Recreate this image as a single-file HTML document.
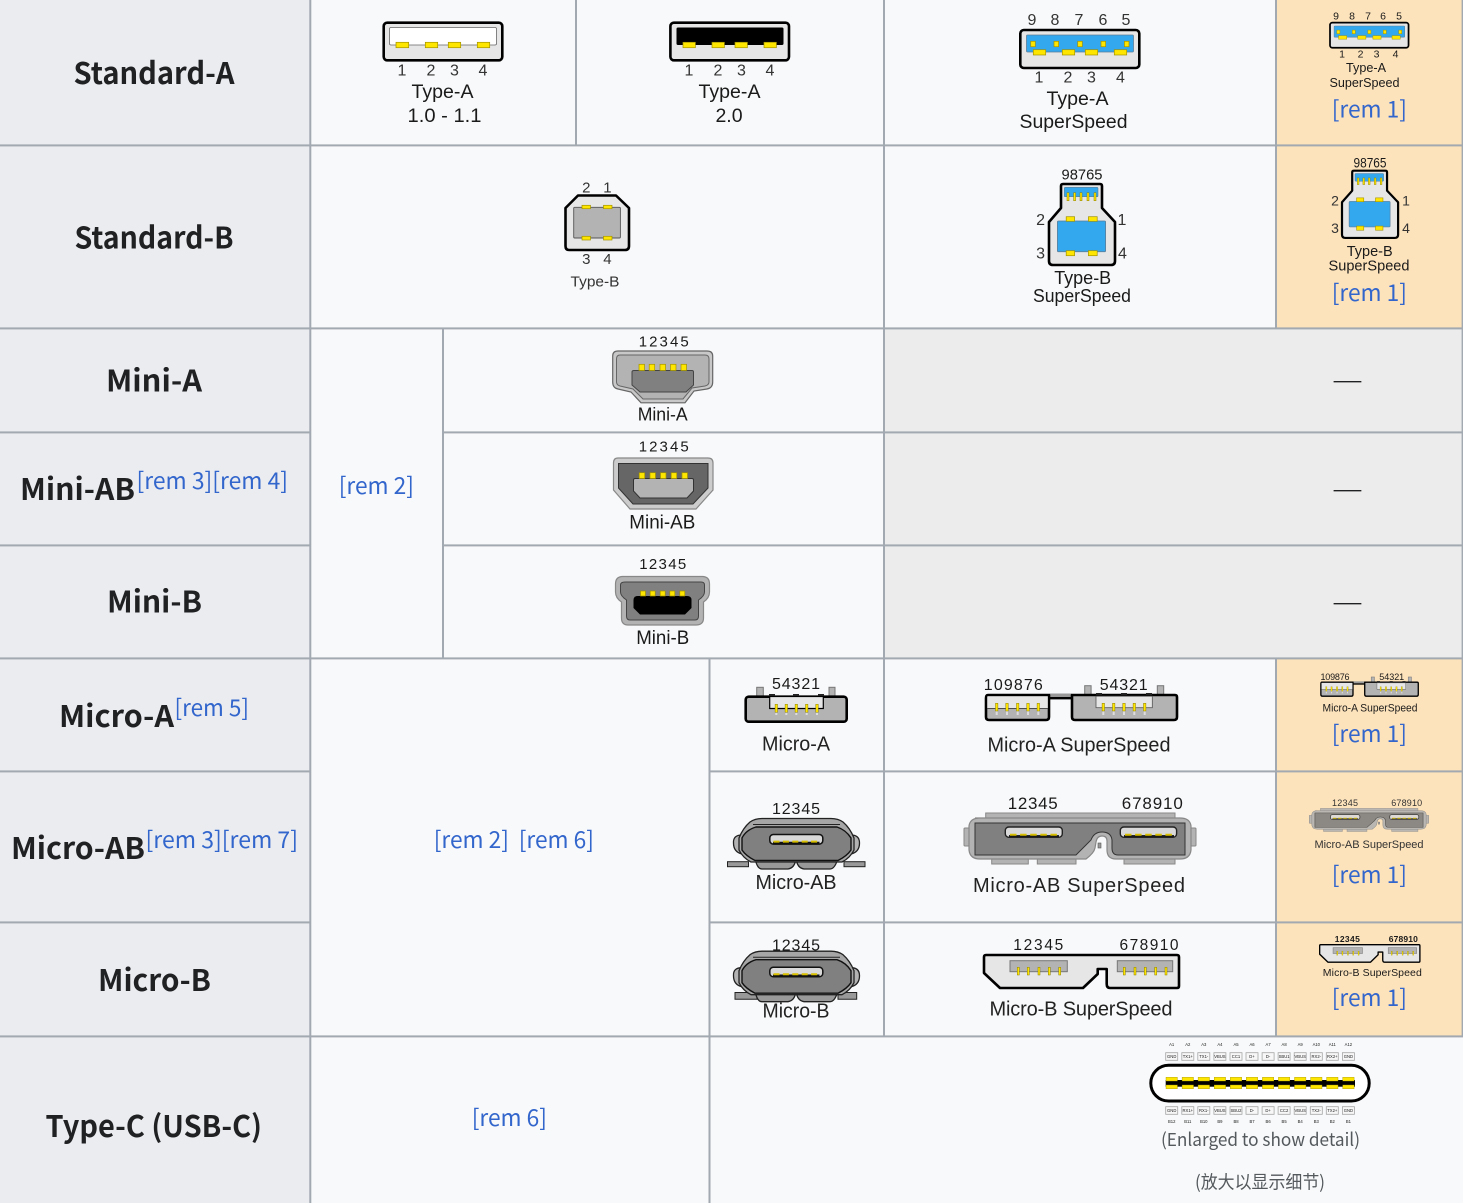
<!DOCTYPE html>
<html lang="en"><head><meta charset="utf-8"><title>USB connectors</title>
<style>
html,body{margin:0;padding:0;background:#f8f9fa;width:1463px;height:1203px;overflow:hidden}
svg{display:block}
text{font-family:"Liberation Sans",sans-serif;fill:#1a1a1a;text-anchor:middle}
.h{font-family:"Noto Sans CJK SC","Liberation Sans",sans-serif;font-weight:700;font-size:30px;fill:#202122;text-anchor:start}
.r{font-family:"Noto Sans CJK SC","Liberation Sans",sans-serif;font-size:23px;fill:#3366cc;text-anchor:start}
.n{font-size:16px;fill:#333}
.l{font-size:19.5px}
.s{font-size:15px}
.c{font-family:"Noto Sans CJK SC","Liberation Sans",sans-serif;font-size:18px;fill:#54595d}
.p{fill:#ffe600;stroke:#a39300;stroke-width:.7}
.t{fill:#ffe600;stroke:#8a7d00;stroke-width:.5}
.ln{fill:#a2a9b1}
.b{fill:#f7f7f7;stroke:#a6a6a6;stroke-width:.8}
.x{font-size:4.2px;fill:#444}
.o{stroke:#000;stroke-width:2.6;stroke-linejoin:round}
</style></head><body>
<svg xmlns="http://www.w3.org/2000/svg" width="1463" height="1203" viewBox="0 0 1463 1203">
<defs>
<g id="ass">
<rect class="o" x="1020.3" y="30" width="119" height="38" rx="3.5" fill="#e6e6e6"/>
<rect x="1026.5" y="35" width="107" height="17" rx="1" fill="#33a8ee" stroke="#5c7f99" stroke-width=".8"/>
<rect class="p" x="1030.7" y="41.3" width="4.6" height="5.4"/><rect class="p" x="1054" y="41.3" width="4.6" height="5.4"/><rect class="p" x="1077.7" y="41.3" width="4.6" height="5.4"/><rect class="p" x="1101" y="41.3" width="4.6" height="5.4"/><rect class="p" x="1124.4" y="41.3" width="4.6" height="5.4"/>
<rect class="p" x="1033.3" y="49.7" width="12.4" height="5.3"/><rect class="p" x="1062.3" y="49.7" width="12.4" height="5.3"/><rect class="p" x="1085.3" y="49.7" width="12.4" height="5.3"/><rect class="p" x="1114.3" y="49.7" width="12.4" height="5.3"/>
</g>
<g id="bss">
<path class="o" d="M1053,265 H1111 Q1115,265 1115,261 V222 L1102,208 V186 Q1102,184 1100,184 H1063 Q1061,184 1061,186 V208 L1049,222 V261 Q1049,265 1053,265Z" fill="#e6e6e6"/>
<rect x="1064.3" y="187.3" width="33.7" height="9.4" rx="1" fill="#33a8ee" stroke="#5c7f99" stroke-width=".6"/>
<rect class="t" x="1067" y="192.7" width="2" height="8"/><rect class="t" x="1073.6" y="192.7" width="2" height="8"/><rect class="t" x="1080" y="192.7" width="2" height="8"/><rect class="t" x="1087" y="192.7" width="2" height="8"/><rect class="t" x="1094" y="192.7" width="2" height="8"/>
<rect x="1057.4" y="221" width="48.2" height="30.7" rx="1" fill="#33a8ee" stroke="#5c7f99" stroke-width=".8"/>
<rect class="p" x="1066.2" y="216.7" width="8.4" height="4.6"/><rect class="p" x="1088.4" y="216.7" width="8.8" height="4.6"/><rect class="p" x="1066.2" y="250.7" width="8.4" height="5"/><rect class="p" x="1088.4" y="250.7" width="8.8" height="5"/>
</g>
<g id="mass">
<rect x="1084.7" y="685.7" width="6.4" height="9" fill="#b3b3b3" stroke="#777"/><rect x="1157.3" y="685.7" width="6.4" height="9" fill="#b3b3b3" stroke="#777"/>
<rect x="1049" y="693.5" width="23" height="3.5" fill="#999"/><rect x="1049" y="697" width="23" height="2.4" fill="#000"/>
<path class="o" d="M988,695 H1049 V717 Q1049,720 1046,720 H989 Q986,720 986,717 V698 Q986,695 988,695Z" fill="#b3b3b3"/>
<rect x="987.3" y="696.3" width="60.5" height="11.7" fill="#e6e6e6"/><rect x="987" y="708" width="61" height=".9" fill="#444"/>
<path class="o" d="M1072,695 H1175 Q1177,695 1177,697 V717 Q1177,720 1174,720 H1075 Q1072,720 1072,717Z" fill="#b3b3b3"/>
<rect x="1096" y="696.2" width="56.3" height="11.5" fill="#e6e6e6" stroke="#555" stroke-width=".8"/>
<rect x="1096" y="693" width="6" height="2" fill="#222"/><rect x="1121" y="693" width="6" height="2" fill="#222"/><rect x="1146" y="693" width="6" height="2" fill="#222"/>
<g fill="#ddd"><rect x="995.7" y="710" width="2" height="5"/><rect x="1006" y="710" width="2" height="5"/><rect x="1016.7" y="710" width="2" height="5"/><rect x="1027" y="710" width="2" height="5"/><rect x="1037.3" y="710" width="2" height="5"/><rect x="1102.3" y="710" width="2" height="5"/><rect x="1112.7" y="710" width="2" height="5"/><rect x="1123" y="710" width="2" height="5"/><rect x="1133.3" y="710" width="2" height="5"/><rect x="1143.7" y="710" width="2" height="5"/></g>
<rect class="t" x="995.5" y="703.3" width="2.4" height="7.7"/><rect class="t" x="1005.8" y="703.3" width="2.4" height="7.7"/><rect class="t" x="1016.5" y="703.3" width="2.4" height="7.7"/><rect class="t" x="1026.8" y="703.3" width="2.4" height="7.7"/><rect class="t" x="1037.1" y="703.3" width="2.4" height="7.7"/>
<rect class="t" x="1102.1" y="703.3" width="2.4" height="7.7"/><rect class="t" x="1112.5" y="703.3" width="2.4" height="7.7"/><rect class="t" x="1122.8" y="703.3" width="2.4" height="7.7"/><rect class="t" x="1133.1" y="703.3" width="2.4" height="7.7"/><rect class="t" x="1143.5" y="703.3" width="2.4" height="7.7"/>
</g>
<g id="slot">
<rect x="769.8" y="834.5" width="53" height="9.6" rx="3.5" fill="#d9d9d9" stroke="#111" stroke-width="1.5"/>
<path d="M773,842.8 H819.5" stroke="#111" stroke-width="2" fill="none"/>
<path d="M773.5,841.6 H820" stroke="#d8c000" stroke-width="2" fill="none" stroke-dasharray="6 3.4"/>
</g>
<g id="mbody">
<path d="M742,835 Q733,835 733.5,843 Q733.5,852 742,854 Z" fill="#b3b3b3" stroke="#222" stroke-width="1.3"/>
<path d="M851,835 Q859.5,835 859.5,843 Q859.5,852 851,854 Z" fill="#b3b3b3" stroke="#222" stroke-width="1.3"/>
<path d="M755,858 H796 Q795,868 788,869 H762 Q757,869 755,858Z" fill="#999" stroke="#222" stroke-width="1.3"/>
<path d="M838,858 H796 Q797,868 804,869 H830 Q835,869 838,858Z" fill="#999" stroke="#222" stroke-width="1.3"/>
<path d="M750,822 Q755,818.5 762,818.5 H831 Q838,818.5 843,822 Q850,828 854,838 V850 Q850,858 842,862 H751 Q743,858 739,850 V838 Q743,828 750,822Z" fill="#a6a6a6" stroke="#222" stroke-width="1.3"/>
<path d="M753,824.5 H840" stroke="#222" stroke-width="1" fill="none"/>
<path d="M756,827 H837 Q846,830 851,838 V850 Q847,856 838,860.5 H755 Q746,856 742,850 V838 Q746,830 756,827Z" fill="#808080" stroke="#111" stroke-width="1.4"/>
<use href="#slot"/>
</g>
<g id="mabss">
<rect x="964" y="828" width="7" height="18" rx="1" fill="#b3b3b3" stroke="#888"/><rect x="1189" y="828" width="7" height="18" rx="1" fill="#b3b3b3" stroke="#888"/>
<rect x="991.7" y="853" width="36.6" height="11" fill="#b3b3b3" stroke="#888"/><rect x="1037.3" y="853" width="38.7" height="11" fill="#b3b3b3" stroke="#888"/><rect x="1124" y="853" width="51" height="11" fill="#b3b3b3" stroke="#888"/>
<rect x="985.7" y="813" width="189.3" height="8" fill="#b3b3b3" stroke="#888"/>
<path d="M975,818 H1180 Q1190,818 1191,826 V850 Q1190,859 1180,859 H1116 Q1107,859 1107,850 V841 Q1107,836 1102,836 Q1097,836 1096,842 L1095,848 Q1094,853 1086,859 H980 Q970,859 969,850 V826 Q970,818 980,818Z" fill="#b3b3b3" stroke="#888" stroke-width="1.2"/>
<path d="M975,823 H1185 V855 H1118 Q1112,855 1112,848 V840 Q1111,832 1102,832 Q1094,832 1091,840 L1076,855 H975Z" fill="#808080" stroke="#333" stroke-width="1"/>
<rect x="1098" y="843" width="3" height="5" fill="#999" stroke="#555" stroke-width=".6"/>
<rect x="1005.3" y="827" width="57" height="10.3" rx="3.5" fill="#d9d9d9" stroke="#222" stroke-width="1.4"/>
<rect x="1120.3" y="827" width="56.3" height="10.3" rx="3.5" fill="#d9d9d9" stroke="#222" stroke-width="1.4"/>
<path d="M1009,836 H1059 M1124,836 H1174" stroke="#111" stroke-width="1.8" fill="none"/>
<path d="M1010,834.8 H1059 M1125,834.8 H1174" stroke="#d8c000" stroke-width="2" stroke-dasharray="6.5 3.6" fill="none"/>
</g>
<g id="mbss">
<path class="o" d="M986,955 H1177 Q1179,955 1179,957 V986 Q1179,988 1177,988 H1110 Q1106.7,988 1106.7,984 V969 H1097.7 V974 L1083,988 H1000 L984,973 V957 Q984,955 986,955Z" fill="#e6e6e6"/>
<rect x="1010" y="960.7" width="57.3" height="11" fill="#b3b3b3" stroke="#777"/>
<rect x="1117.3" y="960.7" width="55.4" height="11" fill="#b3b3b3" stroke="#777"/>
<rect class="t" x="1017.3" y="967.3" width="2" height="7.7"/><rect class="t" x="1027.3" y="967.3" width="2" height="7.7"/><rect class="t" x="1038" y="967.3" width="2" height="7.7"/><rect class="t" x="1048.3" y="967.3" width="2" height="7.7"/><rect class="t" x="1058.7" y="967.3" width="2" height="7.7"/>
<rect class="t" x="1123.3" y="967.3" width="2" height="7.7"/><rect class="t" x="1134" y="967.3" width="2" height="7.7"/><rect class="t" x="1144.3" y="967.3" width="2" height="7.7"/><rect class="t" x="1154.7" y="967.3" width="2" height="7.7"/><rect class="t" x="1165" y="967.3" width="2" height="7.7"/>
</g>
</defs>

<!-- backgrounds -->
<rect width="1463" height="1203" fill="#f8f9fa"/>
<rect x="0" y="0" width="310" height="1203" fill="#eaecf0"/>
<rect x="885" y="329" width="578" height="329" fill="#ececec"/>
<rect x="1277" y="0" width="186" height="328" fill="#fde3bb"/>
<rect x="1277" y="658" width="186" height="378" fill="#fde3bb"/>

<!-- grid -->
<g class="ln">
<rect x="309.3" y="0" width="2" height="1203"/><rect x="575" y="0" width="2" height="145"/><rect x="883" y="0" width="2" height="1036"/>
<rect x="1275" y="0" width="2" height="328"/><rect x="1275" y="658" width="2" height="378"/><rect x="442" y="328" width="2" height="330"/><rect x="708.5" y="658" width="2" height="545"/><rect x="1461.6" y="0" width="1.4" height="1036"/>
<rect x="0" y="144.4" width="1463" height="2"/><rect x="0" y="327.4" width="1463" height="2"/>
<rect x="0" y="431.4" width="310" height="2"/><rect x="443" y="431.4" width="1020" height="2"/>
<rect x="0" y="544.4" width="310" height="2"/><rect x="443" y="544.4" width="1020" height="2"/>
<rect x="0" y="657.4" width="1463" height="2"/>
<rect x="0" y="770.4" width="310" height="2"/><rect x="709" y="770.4" width="754" height="2"/>
<rect x="0" y="921.4" width="310" height="2"/><rect x="709" y="921.4" width="754" height="2"/>
<rect x="0" y="1035.4" width="1463" height="2"/>
</g>

<!-- row headers -->
<text class="h" x="73.5" y="83.8" textLength="161" lengthAdjust="spacingAndGlyphs">Standard-A</text>
<text class="h" x="74.5" y="248.6" textLength="159" lengthAdjust="spacingAndGlyphs">Standard-B</text>
<text class="h" x="106" y="391.5" textLength="96" lengthAdjust="spacingAndGlyphs">Mini-A</text>
<text class="h" x="20" y="499.8" textLength="115" lengthAdjust="spacingAndGlyphs">Mini-AB</text>
<text class="r" x="136.5" y="489" textLength="151.5" lengthAdjust="spacingAndGlyphs">[rem 3][rem 4]</text>
<text class="h" x="107" y="612.5" textLength="95" lengthAdjust="spacingAndGlyphs">Mini-B</text>
<text class="h" x="59" y="726.8" textLength="115" lengthAdjust="spacingAndGlyphs">Micro-A</text>
<text class="r" x="174.5" y="716" textLength="74.5" lengthAdjust="spacingAndGlyphs">[rem 5]</text>
<text class="h" x="11" y="858.8" textLength="134" lengthAdjust="spacingAndGlyphs">Micro-AB</text>
<text class="r" x="145.5" y="848" textLength="152.5" lengthAdjust="spacingAndGlyphs">[rem 3][rem 7]</text>
<text class="h" x="98" y="990.8" textLength="113" lengthAdjust="spacingAndGlyphs">Micro-B</text>
<text class="h" x="45.5" y="1136.8" textLength="216.5" lengthAdjust="spacingAndGlyphs">Type-C (USB-C)</text>

<!-- plain rem cells -->
<text class="r" x="338.7" y="494" textLength="75.3" lengthAdjust="spacingAndGlyphs">[rem 2]</text>
<text class="r" x="433.7" y="848" textLength="75.3" lengthAdjust="spacingAndGlyphs">[rem 2]</text>
<text class="r" x="518.7" y="848" textLength="75.3" lengthAdjust="spacingAndGlyphs">[rem 6]</text>
<text class="r" x="471.7" y="1126" textLength="75.3" lengthAdjust="spacingAndGlyphs">[rem 6]</text>
<text class="r" x="1331.7" y="117.6" textLength="75.3" lengthAdjust="spacingAndGlyphs">[rem 1]</text>
<text class="r" x="1331.7" y="301" textLength="75.3" lengthAdjust="spacingAndGlyphs">[rem 1]</text>
<text class="r" x="1331.7" y="742" textLength="75.3" lengthAdjust="spacingAndGlyphs">[rem 1]</text>
<text class="r" x="1331.7" y="883" textLength="75.3" lengthAdjust="spacingAndGlyphs">[rem 1]</text>
<text class="r" x="1331.7" y="1006" textLength="75.3" lengthAdjust="spacingAndGlyphs">[rem 1]</text>

<!-- em dashes -->
<text class="r" x="1332" y="388.2" textLength="31" lengthAdjust="spacingAndGlyphs" style="fill:#202122">—</text>
<text class="r" x="1332" y="497.2" textLength="31" lengthAdjust="spacingAndGlyphs" style="fill:#202122">—</text>
<text class="r" x="1332" y="610.2" textLength="31" lengthAdjust="spacingAndGlyphs" style="fill:#202122">—</text>

<!-- Type-A 1.0 -->
<rect class="o" x="383.7" y="22.7" width="118.6" height="37.6" rx="3.5" fill="#e6e6e6"/>
<rect x="389.5" y="27.5" width="107" height="17.5" rx="1.5" fill="#fff" stroke="#666" stroke-width=".8"/>
<rect class="p" x="396" y="42.3" width="12.7" height="5.4"/><rect class="p" x="425.3" y="42.3" width="12.4" height="5.4"/><rect class="p" x="448.3" y="42.3" width="12.4" height="5.4"/><rect class="p" x="477.3" y="42.3" width="12.4" height="5.4"/>
<text class="n" x="402" y="75.5">1</text><text class="n" x="431" y="75.5">2</text><text class="n" x="454.5" y="75.5">3</text><text class="n" x="483" y="75.5">4</text>
<text class="l" x="442.5" y="98" textLength="62" lengthAdjust="spacingAndGlyphs">Type-A</text>
<text class="l" x="444.5" y="122" textLength="74" lengthAdjust="spacingAndGlyphs">1.0 - 1.1</text>
<!-- Type-A 2.0 -->
<rect class="o" x="670.4" y="22.7" width="118.6" height="37.6" rx="3.5" fill="#e6e6e6"/>
<rect x="676.5" y="27.5" width="107" height="17.5" rx="1.5" fill="#000"/>
<rect class="p" x="683" y="42.3" width="12.4" height="5.4"/><rect class="p" x="712" y="42.3" width="12.4" height="5.4"/><rect class="p" x="735" y="42.3" width="12.4" height="5.4"/><rect class="p" x="764" y="42.3" width="12.4" height="5.4"/>
<text class="n" x="689" y="75.5">1</text><text class="n" x="718" y="75.5">2</text><text class="n" x="741.5" y="75.5">3</text><text class="n" x="770" y="75.5">4</text>
<text class="l" x="729.5" y="98" textLength="62" lengthAdjust="spacingAndGlyphs">Type-A</text>
<text class="l" x="729" y="122">2.0</text>
<!-- Type-A SS -->
<use href="#ass"/>
<text class="n" x="1032" y="25">9</text><text class="n" x="1055" y="25">8</text><text class="n" x="1079" y="25">7</text><text class="n" x="1103" y="25">6</text><text class="n" x="1126" y="25">5</text>
<text class="n" x="1039" y="82.5">1</text><text class="n" x="1068" y="82.5">2</text><text class="n" x="1091.5" y="82.5">3</text><text class="n" x="1120.5" y="82.5">4</text>
<text class="l" x="1077.5" y="105" textLength="62" lengthAdjust="spacingAndGlyphs">Type-A</text>
<text class="l" x="1073.5" y="128" textLength="108" lengthAdjust="spacingAndGlyphs">SuperSpeed</text>
<!-- Type-A SS small -->
<g transform="translate(656.6,2.86) scale(.66)"><use href="#ass"/></g>
<text x="1336" y="19.5" style="font-size:10.5px">9</text><text x="1352" y="19.5" style="font-size:10.5px">8</text><text x="1368" y="19.5" style="font-size:10.5px">7</text><text x="1383" y="19.5" style="font-size:10.5px">6</text><text x="1399" y="19.5" style="font-size:10.5px">5</text>
<text x="1342" y="57.5" style="font-size:10.5px">1</text><text x="1360.5" y="57.5" style="font-size:10.5px">2</text><text x="1376.5" y="57.5" style="font-size:10.5px">3</text><text x="1395.5" y="57.5" style="font-size:10.5px">4</text>
<text x="1366" y="72" style="font-size:13px" textLength="40" lengthAdjust="spacingAndGlyphs">Type-A</text>
<text x="1364.5" y="87" style="font-size:13px" textLength="70" lengthAdjust="spacingAndGlyphs">SuperSpeed</text>

<!-- Type-B -->
<path class="o" d="M569,250 H625 Q629,250 629,246 V208 L616,195.5 H578 L565.5,208 V246 Q565.5,250 569,250Z" fill="#e6e6e6"/>
<rect x="573.7" y="207.3" width="46.7" height="30.7" rx="1" fill="#b3b3b3" stroke="#555" stroke-width=".9"/>
<rect class="p" x="582" y="205.3" width="8.5" height="3.4"/><rect class="p" x="603.5" y="205.3" width="8.5" height="3.4"/><rect class="p" x="582" y="236.3" width="8.5" height="3.7"/><rect class="p" x="603.5" y="236.3" width="8.5" height="3.7"/>
<text class="n" x="586.3" y="192.7" style="font-size:15px">2</text><text class="n" x="607.4" y="192.7" style="font-size:15px">1</text>
<text class="n" x="586.3" y="264" style="font-size:15px">3</text><text class="n" x="607.4" y="264" style="font-size:15px">4</text>
<text x="595" y="286.7" style="font-size:15px;fill:#333" textLength="49" lengthAdjust="spacingAndGlyphs">Type-B</text>
<!-- Type-B SS -->
<use href="#bss"/>
<text class="s" x="1082" y="179.5" textLength="41" lengthAdjust="spacingAndGlyphs">98765</text>
<text class="n" x="1040.6" y="225">2</text><text class="n" x="1122" y="225">1</text><text class="n" x="1040.6" y="258.3">3</text><text class="n" x="1122.5" y="258.3">4</text>
<text x="1082.7" y="284" style="font-size:18px" textLength="57" lengthAdjust="spacingAndGlyphs">Type-B</text>
<text x="1082" y="302" style="font-size:18px" textLength="98" lengthAdjust="spacingAndGlyphs">SuperSpeed</text>
<!-- Type-B SS small -->
<g transform="translate(450.35,18) scale(.85,.83)"><use href="#bss"/></g>
<text x="1370" y="167.5" style="font-size:14px" textLength="33" lengthAdjust="spacingAndGlyphs">98765</text>
<text class="n" x="1335" y="205.7" style="font-size:14px">2</text><text class="n" x="1406" y="205.7" style="font-size:14px">1</text><text class="n" x="1335" y="233" style="font-size:14px">3</text><text class="n" x="1406" y="233" style="font-size:14px">4</text>
<text x="1369.7" y="256" style="font-size:15px" textLength="46" lengthAdjust="spacingAndGlyphs">Type-B</text>
<text x="1369" y="270.5" style="font-size:15px" textLength="81" lengthAdjust="spacingAndGlyphs">SuperSpeed</text>

<!-- Mini-A -->
<path d="M618,351 H707 Q712.7,351 712.7,356 V382 Q712.7,388 707,389 L694,391 L685,402.8 H641 L631,392 L618,389 Q612.7,388 612.7,382 V356 Q612.7,351 618,351Z" fill="#c8c8c8" stroke="#666" stroke-width="1.2"/>
<path d="M620,355 H705 Q709,355 709,359 V382 Q709,385 705,386 L692,388 L683,399 H643 L633,389 L620,386 Q616.5,385 616.5,382 V359 Q616.5,355 620,355Z" fill="#b3b3b3" stroke="#666" stroke-width="1"/>
<path d="M634,370.5 H692 Q693.5,370.5 693.5,372 V385 L686,392 H640 L632,385 V372 Q632,370.5 634,370.5Z" fill="#808080" stroke="#444" stroke-width="1"/>
<rect class="p" x="639" y="364.3" width="5.5" height="6.2"/><rect class="p" x="649.2" y="364.3" width="5.5" height="6.2"/><rect class="p" x="660" y="364.3" width="5.5" height="6.2"/><rect class="p" x="670.5" y="364.3" width="5.5" height="6.2"/><rect class="p" x="681" y="364.3" width="5.5" height="6.2"/>
<text class="s" x="663.7" y="346.7" textLength="50">12345</text>
<text x="662.7" y="420.7" style="font-size:18px" textLength="50" lengthAdjust="spacingAndGlyphs">Mini-A</text>
<!-- Mini-AB -->
<path d="M618,458 H708 Q713,458 713,463 V490 L696,509 H630 L613.5,490 V463 Q613.5,458 618,458Z" fill="#ccc" stroke="#888" stroke-width="1.2"/>
<path d="M618.5,463.5 H708 V488 L693,504 H633 L618.5,488Z" fill="#666" stroke="#333" stroke-width="1"/>
<path d="M635,478.5 H692 Q693.5,478.5 693.5,480 V491 L687,498 H640 L633.5,491 V480 Q633.5,478.5 635,478.5Z" fill="#b3b3b3" stroke="#333" stroke-width="1"/>
<rect class="p" x="639.2" y="472.7" width="5.5" height="5.8"/><rect class="p" x="650" y="472.7" width="5.5" height="5.8"/><rect class="p" x="660.5" y="472.7" width="5.5" height="5.8"/><rect class="p" x="671.2" y="472.7" width="5.5" height="5.8"/><rect class="p" x="682" y="472.7" width="5.5" height="5.8"/>
<text class="s" x="663.7" y="451.7" textLength="50">12345</text>
<text x="662.3" y="528.3" style="font-size:19px" textLength="66" lengthAdjust="spacingAndGlyphs">Mini-AB</text>
<!-- Mini-B -->
<path d="M622,576.5 H703 Q709.5,577 709.5,584 V592 Q709.5,598 703.5,602 V618 Q703.5,625 696,625 H628 Q621.5,625 621.5,618 V602 Q615.5,598 615.5,592 V584 Q615.5,577 622,576.5Z" fill="#b3b3b3" stroke="#888" stroke-width="1.2"/>
<path d="M625,582 H701 Q704.5,582 704.5,585 V592 Q704.5,596 698.5,600 V616 Q698.5,620 695,620 H630 Q626.5,620 626.5,616 V600 Q620.5,596 620.5,592 V585 Q620.5,582 625,582Z" fill="#808080" stroke="#444" stroke-width="1"/>
<path d="M638,596 H687 Q691.5,596 691.5,600 V608 L685,614.5 H640 L633.5,608 V600 Q633.5,596 638,596Z" fill="#000"/>
<rect class="p" x="640.5" y="591" width="5" height="5"/><rect class="p" x="650.2" y="591" width="5" height="5"/><rect class="p" x="660.2" y="591" width="5" height="5"/><rect class="p" x="669.8" y="591" width="5" height="5"/><rect class="p" x="679.8" y="591" width="5" height="5"/>
<text class="s" x="662.7" y="569" textLength="47">12345</text>
<text x="662.7" y="644" style="font-size:19px" textLength="53" lengthAdjust="spacingAndGlyphs">Mini-B</text>

<!-- Micro-A -->
<rect x="756.7" y="687.3" width="6.6" height="9" fill="#b3b3b3" stroke="#777"/><rect x="829" y="687.3" width="6" height="9" fill="#b3b3b3" stroke="#777"/>
<rect class="o" x="745.7" y="696.7" width="101" height="25" rx="3" fill="#b3b3b3"/>
<rect x="769.7" y="696.5" width="53.6" height="12" fill="#e6e6e6" stroke="#000" stroke-width="1.2"/>
<rect x="769" y="694" width="6" height="2" fill="#222"/><rect x="793" y="694" width="6" height="2" fill="#222"/><rect x="818" y="694" width="6" height="2" fill="#222"/>
<g fill="#ddd"><rect x="775.3" y="711" width="2" height="4"/><rect x="785.3" y="711" width="2" height="4"/><rect x="795.3" y="711" width="2" height="4"/><rect x="805.7" y="711" width="2" height="4"/><rect x="816" y="711" width="2" height="4"/></g>
<rect class="t" x="775.1" y="704.3" width="2.4" height="8"/><rect class="t" x="785.1" y="704.3" width="2.4" height="8"/><rect class="t" x="795.1" y="704.3" width="2.4" height="8"/><rect class="t" x="805.5" y="704.3" width="2.4" height="8"/><rect class="t" x="815.8" y="704.3" width="2.4" height="8"/>
<text class="s" x="796" y="689" style="font-size:16px" textLength="48">54321</text>
<text x="796" y="750.7" style="font-size:20px;fill:#222" textLength="68" lengthAdjust="spacingAndGlyphs">Micro-A</text>
<!-- Micro-A SS -->
<use href="#mass"/>
<text x="1013.3" y="690" style="font-size:16px" textLength="59">109876</text>
<text x="1123.7" y="690" style="font-size:16px" textLength="48">54321</text>
<text x="1079" y="751.3" style="font-size:20px;fill:#222" textLength="183" lengthAdjust="spacingAndGlyphs">Micro-A SuperSpeed</text>
<!-- Micro-A SS small -->
<g transform="translate(818,293) scale(.51,.56)"><use href="#mass"/></g>
<text x="1335" y="680" style="font-size:9px" textLength="29">109876</text>
<text x="1391.7" y="680" style="font-size:9px" textLength="25">54321</text>
<text x="1370" y="711.5" style="font-size:11px" textLength="95" lengthAdjust="spacingAndGlyphs">Micro-A SuperSpeed</text>

<!-- Micro-AB -->
<rect x="727.5" y="861.7" width="21" height="5" fill="#999" stroke="#222" stroke-width="1"/><rect x="844" y="861.7" width="21" height="5" fill="#999" stroke="#222" stroke-width="1"/>
<use href="#mbody"/>
<text x="796" y="814" style="font-size:16px" textLength="48">12345</text>
<text x="796" y="889" style="font-size:20px;fill:#222" textLength="81" lengthAdjust="spacingAndGlyphs">Micro-AB</text>
<!-- Micro-AB SS -->
<use href="#mabss"/>
<text x="1032.7" y="809" style="font-size:17px" textLength="50">12345</text>
<text x="1152.3" y="809" style="font-size:17px" textLength="61">678910</text>
<text x="1079" y="892" style="font-size:20px;fill:#222" textLength="212" lengthAdjust="spacing">Micro-AB SuperSpeed</text>
<!-- Micro-AB SS small -->
<g transform="translate(812.8,440.1) scale(.515,.453)" opacity=".9"><use href="#mabss"/></g>
<text x="1345" y="806" style="font-size:9px;fill:#333" textLength="26">12345</text>
<text x="1406.7" y="806" style="font-size:9px;fill:#333" textLength="31">678910</text>
<text x="1369" y="848" style="font-size:11px;fill:#333" textLength="109">Micro-AB SuperSpeed</text>

<!-- Micro-B -->
<path d="M735,992.5 H757 V999.3 H735Z M838,992.5 H856.7 V999.3 H838Z" fill="#999" stroke="#222" stroke-width="1"/>
<g transform="translate(0,132.7)"><use href="#mbody"/></g>
<text x="796" y="950.5" style="font-size:16px" textLength="48">12345</text>
<text x="796" y="1017.7" style="font-size:20px;fill:#222" textLength="67" lengthAdjust="spacingAndGlyphs">Micro-B</text>
<!-- Micro-B SS -->
<use href="#mbss"/>
<text x="1038.3" y="950" style="font-size:15.5px" textLength="50">12345</text>
<text x="1149" y="950" style="font-size:15.5px" textLength="59">678910</text>
<text x="1081" y="1015.7" style="font-size:20px;fill:#222" textLength="183" lengthAdjust="spacing">Micro-B SuperSpeed</text>
<!-- Micro-B SS small -->
<g transform="translate(813.9,438.5) scale(.514,.53)"><use href="#mbss"/></g>
<text x="1347.3" y="942" style="font-size:8.5px;font-weight:700" textLength="25">12345</text>
<text x="1403.3" y="942" style="font-size:8.5px;font-weight:700" textLength="29">678910</text>
<text x="1372.3" y="976" style="font-size:10.5px" textLength="99">Micro-B SuperSpeed</text>

<!-- Type-C -->
<g class="x">
<text x="1171.7" y="1046">A1</text><text x="1187.8" y="1046">A2</text><text x="1203.8" y="1046">A3</text><text x="1219.9" y="1046">A4</text><text x="1236" y="1046">A5</text><text x="1252" y="1046">A6</text><text x="1268.1" y="1046">A7</text><text x="1284.1" y="1046">A8</text><text x="1300.2" y="1046">A9</text><text x="1316.3" y="1046">A10</text><text x="1332.3" y="1046">A11</text><text x="1348.4" y="1046">A12</text>
</g>
<g class="b">
<rect x="1165.7" y="1052.7" width="12" height="7.6"/><rect x="1181.8" y="1052.7" width="12" height="7.6"/><rect x="1197.8" y="1052.7" width="12" height="7.6"/><rect x="1213.9" y="1052.7" width="12" height="7.6"/><rect x="1230" y="1052.7" width="12" height="7.6"/><rect x="1246" y="1052.7" width="12" height="7.6"/><rect x="1262.1" y="1052.7" width="12" height="7.6"/><rect x="1278.1" y="1052.7" width="12" height="7.6"/><rect x="1294.2" y="1052.7" width="12" height="7.6"/><rect x="1310.3" y="1052.7" width="12" height="7.6"/><rect x="1326.3" y="1052.7" width="12" height="7.6"/><rect x="1342.4" y="1052.7" width="12" height="7.6"/>
<rect x="1165.7" y="1106.7" width="12" height="7.6"/><rect x="1181.8" y="1106.7" width="12" height="7.6"/><rect x="1197.8" y="1106.7" width="12" height="7.6"/><rect x="1213.9" y="1106.7" width="12" height="7.6"/><rect x="1230" y="1106.7" width="12" height="7.6"/><rect x="1246" y="1106.7" width="12" height="7.6"/><rect x="1262.1" y="1106.7" width="12" height="7.6"/><rect x="1278.1" y="1106.7" width="12" height="7.6"/><rect x="1294.2" y="1106.7" width="12" height="7.6"/><rect x="1310.3" y="1106.7" width="12" height="7.6"/><rect x="1326.3" y="1106.7" width="12" height="7.6"/><rect x="1342.4" y="1106.7" width="12" height="7.6"/>
</g>
<g class="x">
<text x="1171.7" y="1058.2">GND</text><text x="1187.8" y="1058.2">TX1+</text><text x="1203.8" y="1058.2">TX1-</text><text x="1219.9" y="1058.2">VBUS</text><text x="1236" y="1058.2">CC1</text><text x="1252" y="1058.2">D+</text><text x="1268.1" y="1058.2">D-</text><text x="1284.1" y="1058.2">SBU1</text><text x="1300.2" y="1058.2">VBUS</text><text x="1316.3" y="1058.2">RX2-</text><text x="1332.3" y="1058.2">RX2+</text><text x="1348.4" y="1058.2">GND</text>
<text x="1171.7" y="1112.2">GND</text><text x="1187.8" y="1112.2">RX1+</text><text x="1203.8" y="1112.2">RX1-</text><text x="1219.9" y="1112.2">VBUS</text><text x="1236" y="1112.2">SBU2</text><text x="1252" y="1112.2">D-</text><text x="1268.1" y="1112.2">D+</text><text x="1284.1" y="1112.2">CC2</text><text x="1300.2" y="1112.2">VBUS</text><text x="1316.3" y="1112.2">TX2-</text><text x="1332.3" y="1112.2">TX2+</text><text x="1348.4" y="1112.2">GND</text>
<text x="1171.7" y="1123">B12</text><text x="1187.8" y="1123">B11</text><text x="1203.8" y="1123">B10</text><text x="1219.9" y="1123">B9</text><text x="1236" y="1123">B8</text><text x="1252" y="1123">B7</text><text x="1268.1" y="1123">B6</text><text x="1284.1" y="1123">B5</text><text x="1300.2" y="1123">B4</text><text x="1316.3" y="1123">B3</text><text x="1332.3" y="1123">B2</text><text x="1348.4" y="1123">B1</text>
</g>
<rect x="1150.8" y="1065.3" width="218.4" height="35.7" rx="17.8" fill="#fff" stroke="#000" stroke-width="3"/>
<rect x="1165.7" y="1080" width="189.3" height="6.7" fill="#000"/>
<g class="p" style="stroke-width:.4">
<rect x="1166" y="1077.3" width="11.4" height="3.7"/><rect x="1182.1" y="1077.3" width="11.4" height="3.7"/><rect x="1198.1" y="1077.3" width="11.4" height="3.7"/><rect x="1214.2" y="1077.3" width="11.4" height="3.7"/><rect x="1230.3" y="1077.3" width="11.4" height="3.7"/><rect x="1246.3" y="1077.3" width="11.4" height="3.7"/><rect x="1262.4" y="1077.3" width="11.4" height="3.7"/><rect x="1278.4" y="1077.3" width="11.4" height="3.7"/><rect x="1294.5" y="1077.3" width="11.4" height="3.7"/><rect x="1310.6" y="1077.3" width="11.4" height="3.7"/><rect x="1326.6" y="1077.3" width="11.4" height="3.7"/><rect x="1342.7" y="1077.3" width="11.4" height="3.7"/>
<rect x="1166" y="1085" width="11.4" height="3.7"/><rect x="1182.1" y="1085" width="11.4" height="3.7"/><rect x="1198.1" y="1085" width="11.4" height="3.7"/><rect x="1214.2" y="1085" width="11.4" height="3.7"/><rect x="1230.3" y="1085" width="11.4" height="3.7"/><rect x="1246.3" y="1085" width="11.4" height="3.7"/><rect x="1262.4" y="1085" width="11.4" height="3.7"/><rect x="1278.4" y="1085" width="11.4" height="3.7"/><rect x="1294.5" y="1085" width="11.4" height="3.7"/><rect x="1310.6" y="1085" width="11.4" height="3.7"/><rect x="1326.6" y="1085" width="11.4" height="3.7"/><rect x="1342.7" y="1085" width="11.4" height="3.7"/>
</g>
<text class="c" x="1161" y="1146" style="text-anchor:start" textLength="199" lengthAdjust="spacingAndGlyphs">(Enlarged to show detail)</text>
<text class="c" x="1195" y="1188.5" style="text-anchor:start" textLength="130" lengthAdjust="spacingAndGlyphs">(放大以显示细节)</text>
</svg>
</body></html>
